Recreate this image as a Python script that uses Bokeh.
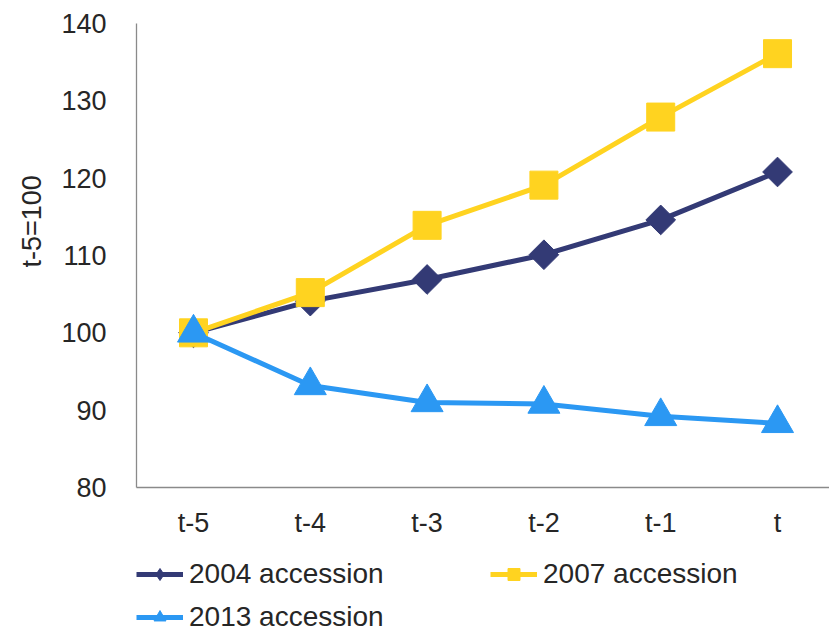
import math

from bokeh.embed import file_html
from bokeh.layouts import column
from bokeh.models import FixedTicker, Legend, LegendItem, Range1d, Title
from bokeh.plotting import figure
from bokeh.resources import INLINE

# Index values relative to the period five years before accession (t-5 = 100)
periods = ["t-5", "t-4", "t-3", "t-2", "t-1", "t"]
acc_2004 = [100, 104.1, 106.9, 110.1, 114.6, 120.8]
acc_2007 = [100, 105.2, 113.9, 119.1, 127.9, 136.1]
acc_2013 = [100, 93.2, 91.0, 90.8, 89.2, 88.3]
y_ticks = [80, 90, 100, 110, 120, 130, 140]
series_names = ["2004 accession", "2007 accession", "2013 accession"]

NAVY = "#333a75"
YELLOW = "#ffd320"
BLUE = "#2b98f3"
TEXT = "#262626"
FONT = "Liberation Sans"

x = list(range(len(periods)))

# ---- main chart -----------------------------------------------------------
p = figure(
    width=829, height=540,
    output_backend="svg", toolbar_location=None,
    x_range=Range1d(-0.488, 5.445), y_range=Range1d(80, 140),
    min_border_left=136, min_border_right=0,
    min_border_top=23, min_border_bottom=53,
)
p.outline_line_color = None
p.grid.visible = False
p.background_fill_color = "white"
p.border_fill_color = "white"

p.xaxis.ticker = FixedTicker(ticks=x)
p.xaxis.major_label_overrides = {i: lab for i, lab in enumerate(periods)}
p.yaxis.ticker = FixedTicker(ticks=y_ticks)
for ax in (p.xaxis, p.yaxis):
    ax.axis_line_color = "#8a8a8a"
    ax.axis_line_width = 1.3
    ax.major_tick_line_color = None
    ax.minor_tick_line_color = None
    ax.major_label_text_font = FONT
    ax.major_label_text_font_size = "27px"
    ax.major_label_text_color = TEXT
p.xaxis.major_label_standoff = 14
p.yaxis.major_label_standoff = 24

# rotated y-axis caption, lifted into the upper half of the axis
p.add_layout(Title(text="t-5=100", align="left", offset=220, standoff=24,
                   text_font=FONT, text_font_size="27px",
                   text_font_style="normal", text_color=TEXT), "left")

# series: line plus marker
p.line(x, acc_2004, line_color=NAVY, line_width=5)
p.scatter(x, acc_2004, marker="square", angle=math.pi / 4, size=21,
          fill_color=NAVY, line_color=NAVY)
p.line(x, acc_2007, line_color=YELLOW, line_width=5)
p.scatter(x, acc_2007, marker="square", size=28,
          fill_color=YELLOW, line_color=YELLOW)
p.line(x, acc_2013, line_color=BLUE, line_width=5)
p.scatter(x, acc_2013, marker="triangle", size=32,
          fill_color=BLUE, line_color=BLUE)

# ---- legend strip under the chart -----------------------------------------
# The strip's own view range lies far below the series, so only the legend
# keys of these renderers show up.
key = figure(
    width=829, height=93,
    output_backend="svg", toolbar_location=None,
    x_range=Range1d(0, 1), y_range=Range1d(0, 1),
    x_axis_location=None, y_axis_location=None,
    min_border_left=136, min_border_right=0,
    min_border_top=0, min_border_bottom=0,
)
key.outline_line_color = None
key.grid.visible = False

styles = [
    (series_names[0], acc_2004, NAVY, "diamond"),
    (series_names[1], acc_2007, YELLOW, "square"),
    (series_names[2], acc_2013, BLUE, "triangle"),
]
key_items = {}
for name, values, colour, marker in styles:
    ln = key.line(x, values, line_color=colour, line_width=5)
    mk = key.scatter(x, values, marker=marker, size=12,
                     fill_color=colour, line_color=colour)
    key_items[name] = LegendItem(label=name, renderers=[ln, mk])

# two columns, filled column by column: 2004 / 2013 | 2007
legend = Legend(
    items=[key_items[series_names[0]], key_items[series_names[2]],
           key_items[series_names[1]]],
    ncols=2,
    location=(0, 0),
    label_text_font=FONT, label_text_font_size="28px", label_text_color=TEXT,
    glyph_width=47, glyph_height=30, label_height=30,
    label_standoff=6, label_width=290, spacing=11,
    padding=0, margin=0,
    border_line_color=None, background_fill_alpha=0,
)
key.add_layout(legend)

layout = column(p, key, spacing=0)
open("out.html", "w").write(file_html(layout, INLINE))
